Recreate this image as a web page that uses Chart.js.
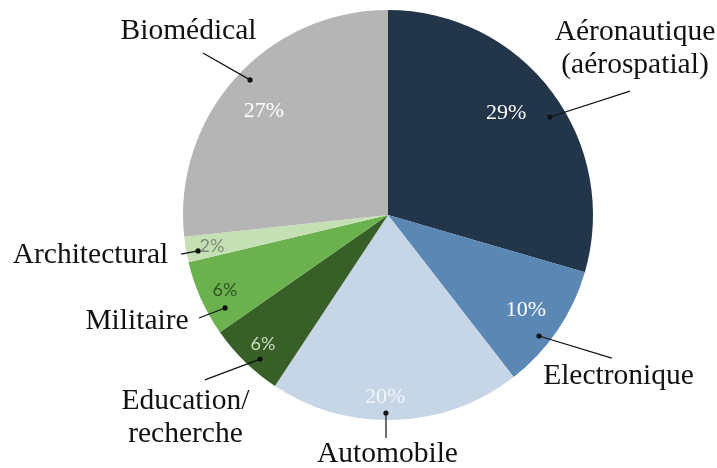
<!DOCTYPE html>
<html>
<head>
<meta charset="utf-8">
<script src="https://cdn.jsdelivr.net/npm/chart.js@4/dist/chart.umd.min.js"></script>
<style>
  html, body { margin: 0; padding: 0; background: #ffffff; }
  #wrap { width: 717px; height: 468px; }
</style>
</head>
<body>
<div id="wrap"><canvas id="c" width="717" height="468"></canvas></div>
<script>
// ---- data ----
const categories = ["Aéronautique (aérospatial)", "Electronique", "Automobile", "Education/recherche", "Militaire", "Architectural", "Biomédical"];
const labelLines = [["Aéronautique", "(aérospatial)"], ["Electronique"], ["Automobile"], ["Education/", "recherche"], ["Militaire"], ["Architectural"], ["Biomédical"]];
// slice sizes
const shares = [29.5, 10, 19.8, 6, 6, 2, 26.7];
// percentages as printed on the chart
const shareLabels = ["29%", "10%", "20%", "6%", "6%", "2%", "27%"];

// ---- styles ----
const colors = ["#223549", "#5b87b5", "#c6d6e7", "#375f27", "#6bb14e", "#c6e0b5", "#b5b5b5"];
const pctColors = ["#ffffff", "#ffffff", "#f2f5f9", "#c9dcc0", "#2f5420", "#7d8c7b", "#ffffff"];
const pctFonts = ["22px 'Liberation Serif'", "22px 'Liberation Serif'", "22px 'Liberation Serif'", "18px Lato", "18px Lato", "18px Lato", "22px 'Liberation Serif'"];
// annotation layout (polar, relative to pie centre; angle in degrees, radius as fraction of R)
const pctPolar = [[-40.8, 0.761], [34.5, 0.817], [90.9, 0.888], [134.1, 0.876], [155.3, 0.875], [170, 0.872], [220, 0.79]];
const dotPolar = [[-31.2, 0.923], [38.7, 0.944], [90.6, 0.966], [131.6, 0.94], [150.3, 0.915], [169.3, 0.943], [224.4, 0.942]];
const endPolar = [[-27.1, 1.326], [32.6, 1.296], [90.5, 1.088], [138, 1.202], [151.4, 1.05], [169.3, 1.027], [221.2, 1.2]];
// category text: centre-x / first baseline offsets from pie centre, in units of R
const textOffset = [[247, -175], [230.5, 169], [-0.5, 247], [-202.5, 194], [-251, 114], [-297.5, 48], [-199.5, -176]];
const lineGap = 33;

const annotate = {
  id: 'annotate',
  afterDatasetsDraw(chart) {
    const ctx = chart.ctx;
    const arcs = chart.getDatasetMeta(0).data;
    if (!arcs.length) return;
    const cx = arcs[0].x, cy = arcs[0].y, R = arcs[0].outerRadius;
    const k = R / 205;
    const pol = (p) => {
      const a = p[0] * Math.PI / 180;
      return [cx + Math.cos(a) * p[1] * R, cy + Math.sin(a) * p[1] * R];
    };
    ctx.save();
    // percentages
    ctx.textAlign = 'center';
    ctx.textBaseline = 'middle';
    shareLabels.forEach((t, i) => {
      const [x, y] = pol(pctPolar[i]);
      ctx.font = pctFonts[i];
      ctx.fillStyle = pctColors[i];
      ctx.fillText(t, x, y);
    });
    // leader lines
    ctx.strokeStyle = '#111111';
    ctx.fillStyle = '#111111';
    ctx.lineWidth = 1.2;
    categories.forEach((c, i) => {
      const [x1, y1] = pol(dotPolar[i]);
      const [x2, y2] = pol(endPolar[i]);
      ctx.beginPath();
      ctx.moveTo(x1, y1);
      ctx.lineTo(x2, y2);
      ctx.stroke();
      ctx.beginPath();
      ctx.arc(x1, y1, 2.6, 0, Math.PI * 2);
      ctx.fill();
    });
    // category text
    ctx.font = "29.5px 'Liberation Serif'";
    ctx.textBaseline = 'alphabetic';
    ctx.fillStyle = '#111111';
    labelLines.forEach((lines, i) => {
      const x = cx + textOffset[i][0] * k;
      const y = cy + textOffset[i][1] * k;
      lines.forEach((ln, j) => ctx.fillText(ln, x, y + j * lineGap));
    });
    ctx.restore();
  }
};

new Chart(document.getElementById('c'), {
  type: 'pie',
  data: {
    labels: categories,
    datasets: [{
      data: shares,
      backgroundColor: colors,
      borderWidth: 0
    }]
  },
  options: {
    responsive: false,
    animation: false,
    layout: { padding: { left: 183, right: 124, top: 10, bottom: 48 } },
    plugins: {
      legend: { display: false },
      tooltip: { enabled: false },
      title: { display: false }
    }
  },
  plugins: [annotate]
});
</script>
</body>
</html>
